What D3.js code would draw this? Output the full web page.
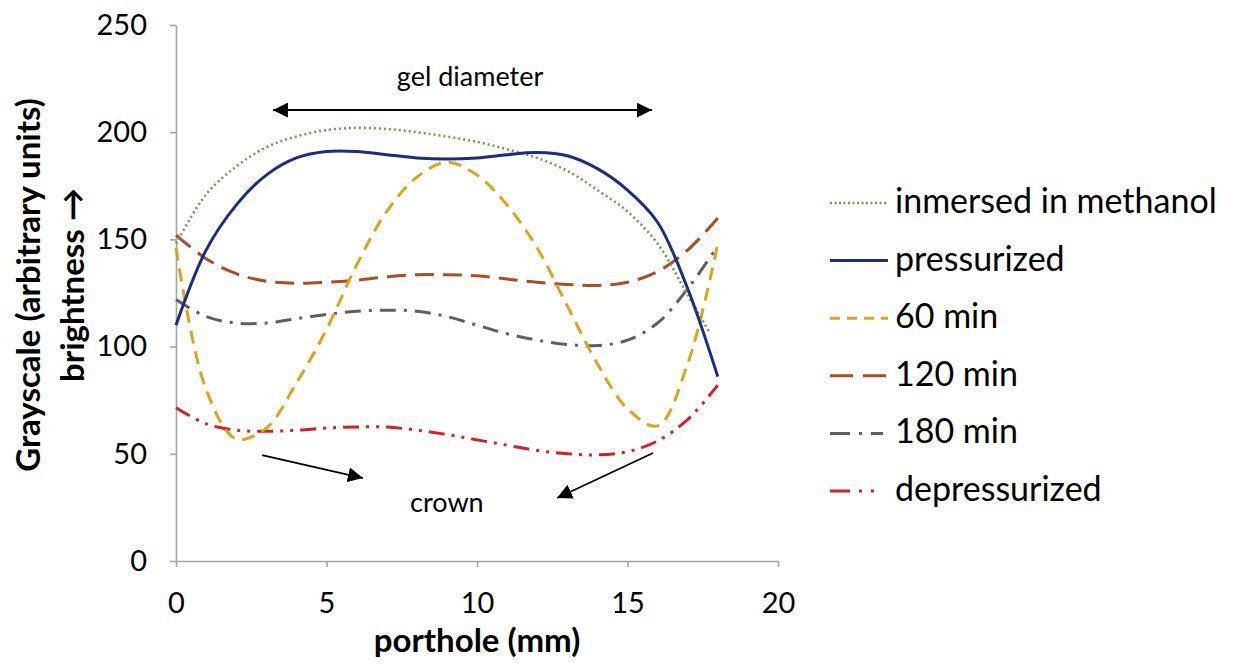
<!DOCTYPE html>
<html><head><meta charset="utf-8">
<script src="https://cdn.jsdelivr.net/npm/d3@7"></script>
<style>
body{margin:0;background:#fff}
svg{display:block}
text{font-family:Lato,"Open Sans",sans-serif;fill:#000}
</style>
</head><body>
<svg id="chart" width="1235" height="666"></svg>
<script>
// ---- data ----
const xTicks = [0, 5, 10, 15, 20];
const yTicks = [0, 50, 100, 150, 200, 250];
const xs = [0,1,2,3,4,5,6,7,8,9,10,11,12,13,14,15,16,17,18];
const xsMethanol = [0,1,2,3,4,5,6,7,8,9,10,11,12,13,14,15,16,17,17.75];
const seriesNames = ["inmersed in methanol","pressurized","60 min","120 min","180 min","depressurized"];
const methanol     = [148,171,184,193,198,201,202,201.5,200,198,195.5,192,188,182,173,163,148,124,106];
const pressurized  = [110,145,166,180,188,191,191,189.5,188,187.5,188,189.5,190.5,189,183,173,158,127,86];
const min60        = [146,80,57,62,83,108,138,163,179,186,180,166,146,119,92,71,63,92,148];
const min120       = [152,141,134,130.5,129.5,130,131,132.5,133.5,133.5,133,131.5,130,129,128.5,130,135,145,160];
const min180       = [122,114,111,111,113,115,116.5,117,116.5,114,110,106,103,101,100.5,103,111,127,147];
const depressurized= [71.5,64,61,60.5,61,62,62.5,62.5,61,59,56.5,54,51.5,50,49.5,51,56,66,82];
const xTitle = "porthole (mm)";
const yTitleLines = ["Grayscale (arbitrary units)", "brightness \u2192"];
// annotations (data coordinates)
const gelLabel = {text:"gel diameter", x:9.77, y:221.5};
const gelArrow = [[3.22,210.3],[15.81,210.3]];
const crownLabel = {text:"crown", x:9.0, y:22.9};
const crownArrows = [[[2.86,49.4],[6.21,38.7]], [[15.85,50.4],[12.66,29.4]]];

// ---- styles ----
const colors = ["#6f9e52","#1c2d7e","#d8a520","#a84f25","#5f5f5f","#d42027"];
const dashes = ["2,3", null, "13,8", "19,9", "16,8,3,8", "16,7,3,7,3,7"];
const legendDashes = ["2,2.5", null, "10,7", "23,10", "20,9,3,9,12", "20,9,3,9,3"];

const svg = d3.select("#chart");
const x = d3.scaleLinear().domain([0,20]).range([176,778]);
const y = d3.scaleLinear().domain([0,250]).range([561,25]);

const axisColor = "#a3a3a3";
const gy = svg.append("g").attr("transform","translate(176,0)")
  .call(d3.axisLeft(y).tickValues(yTicks).tickSize(6).tickSizeOuter(0).tickPadding(23));
const gx = svg.append("g").attr("transform","translate(0,561)")
  .call(d3.axisBottom(x).tickValues(xTicks).tickSize(6).tickSizeOuter(0).tickPadding(25));
[gx, gy].forEach(g => {
  g.selectAll("path,line").attr("stroke", axisColor).attr("stroke-width", 1.6);
  g.selectAll("text").style("font-family","Lato,sans-serif").style("font-size","29px").attr("fill","#111");
});

// series
const all = [
  {name:seriesNames[0], xv:xsMethanol, yv:methanol},
  {name:seriesNames[1], xv:xs, yv:pressurized},
  {name:seriesNames[2], xv:xs, yv:min60},
  {name:seriesNames[3], xv:xs, yv:min120},
  {name:seriesNames[4], xv:xs, yv:min180},
  {name:seriesNames[5], xv:xs, yv:depressurized}
];
const line = d3.line().x(d=>x(d[0])).y(d=>y(d[1])).curve(d3.curveCatmullRom.alpha(0.5));
const drawOrder = [5,4,3,2,0,1];
drawOrder.forEach(i => {
  const s = all[i];
  const pts = s.xv.map((v,k)=>[v, s.yv[k]]);
  svg.append("path").datum(pts).attr("d", line)
    .attr("fill","none").attr("stroke", colors[i])
    .attr("stroke-width", i===0 ? 2.6 : 3)
    .attr("stroke-dasharray", dashes[i]);
});

// legend
const lg = svg.append("g");
all.forEach((s,i) => {
  const ly = 203 + i*57.6;
  lg.append("line").attr("x1",830).attr("x2",888).attr("y1",ly).attr("y2",ly)
    .attr("stroke",colors[i]).attr("stroke-width", i===0 ? 2.4 : 3)
    .attr("stroke-dasharray", legendDashes[i]);
  lg.append("text").attr("x",895).attr("y",ly+10).style("font-size","34px").text(s.name);
});

// axis titles
svg.append("text").attr("x",477).attr("y",652).attr("text-anchor","middle")
  .style("font-size","33px").style("font-weight","bold").text(xTitle);
yTitleLines.forEach((t,i) => {
  svg.append("text").attr("transform",`translate(${40+i*44},285) rotate(-90)`)
    .attr("text-anchor","middle").style("font-size","33px").style("font-weight","bold").text(t);
});

// annotations
const defs = svg.append("defs");
defs.append("marker").attr("id","head").attr("viewBox","0 0 10 10")
  .attr("refX",10).attr("refY",5).attr("markerWidth",15).attr("markerHeight",15)
  .attr("markerUnits","userSpaceOnUse").attr("orient","auto-start-reverse")
  .append("path").attr("d","M0,0 L10,5 L0,10 Z").attr("fill","#000");

svg.append("line")
  .attr("x1",x(gelArrow[0][0])).attr("y1",y(gelArrow[0][1]))
  .attr("x2",x(gelArrow[1][0])).attr("y2",y(gelArrow[1][1]))
  .attr("stroke","#000").attr("stroke-width",2)
  .attr("marker-start","url(#head)").attr("marker-end","url(#head)");
svg.append("text").attr("x",x(gelLabel.x)).attr("y",y(gelLabel.y)).attr("text-anchor","middle")
  .style("font-size","27px").text(gelLabel.text);

crownArrows.forEach(a => {
  svg.append("line")
    .attr("x1",x(a[0][0])).attr("y1",y(a[0][1]))
    .attr("x2",x(a[1][0])).attr("y2",y(a[1][1]))
    .attr("stroke","#000").attr("stroke-width",1.8)
    .attr("marker-end","url(#head)");
});
svg.append("text").attr("x",x(crownLabel.x)).attr("y",y(crownLabel.y)).attr("text-anchor","middle")
  .style("font-size","27px").text(crownLabel.text);
</script>
</body></html>
